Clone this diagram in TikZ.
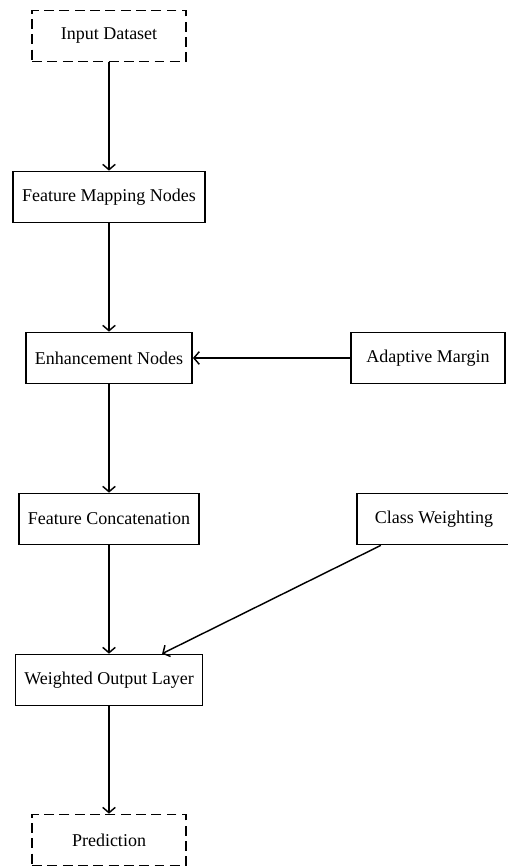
\documentclass[tikz,border=0pt]{standalone}
\usepackage{fontspec}
\setmainfont{Liberation Serif}
\usetikzlibrary{arrows.meta}
\begin{document}
\begin{tikzpicture}[x=0.5556pt,y=-0.5556pt,
  box/.style={draw, line width=0.8pt, minimum width=3cm, minimum height=1cm, inner sep=5pt, font=\fontsize{10pt}{12pt}\selectfont},
  ioBox/.style={box, dash pattern=on 5.5pt off 3pt},
  conn/.style={line width=0.8pt, -{Straight Barb[length=3pt,width=7pt]}}]
\useasboundingbox (0,0) rectangle (507,868);
\node[ioBox] (inp) at (109,36) {Input Dataset};
\node[box] (fm) at (109,197) {Feature Mapping Nodes};
\node[box] (en) at (109,358) {Enhancement Nodes};
\node[box] (am) at (428,358) {Adaptive Margin};
\node[box] (fc) at (109,519) {Feature Concatenation};
\node[box] (cw) at (434,519) {Class Weighting};
\node[box] (wo) at (109,680) {Weighted Output Layer};
\node[ioBox] (pr) at (109,840) {Prediction};
\draw[conn] (inp) -- (fm);
\draw[conn] (fm) -- (en);
\draw[conn] (am) -- (en);
\draw[conn] (en) -- (fc);
\draw[conn] (fc) -- (wo);
\draw[conn] (cw) -- (wo);
\draw[conn] (wo) -- (pr);
\end{tikzpicture}
\end{document}
